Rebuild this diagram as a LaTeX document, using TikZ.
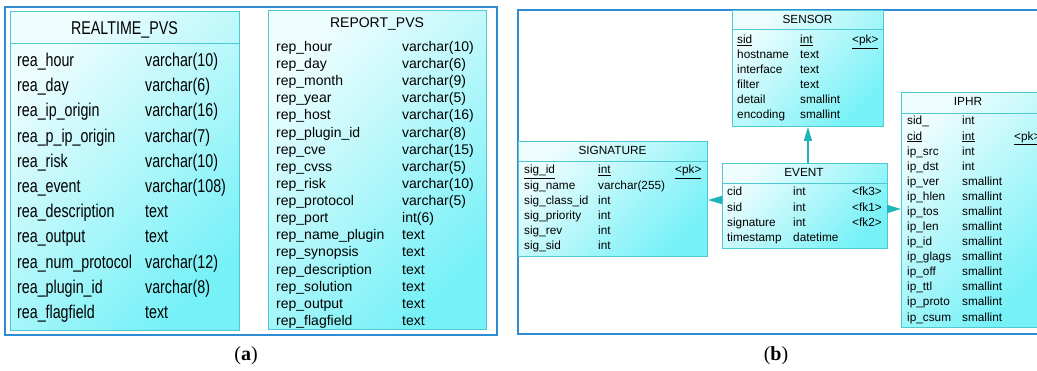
\documentclass[tikz,border=0pt]{standalone}
\usepackage{fontspec}
\setmainfont{Liberation Serif}
\newfontfamily\arialf{Liberation Sans}
\newfontfamily\arialn[FakeStretch=0.77]{Liberation Sans}
\usetikzlibrary{arrows.meta}
\definecolor{panelblue}{RGB}{45,140,212}
\definecolor{tblborder}{RGB}{80,200,210}
\definecolor{shlight}{RGB}{238,253,254}
\definecolor{shdark}{RGB}{118,241,247}
\definecolor{conncol}{RGB}{32,180,185}
\begin{document}
\begin{tikzpicture}[x=1pt,y=-1pt,
  panel/.style={draw=panelblue, line width=1.8pt},
  tbl/.style={draw=tblborder, line width=0.9pt, top color=shlight, bottom color=shdark, shading angle=45, inner sep=0pt, anchor=north west},
  sep/.style={draw=tblborder, line width=0.9pt},
  cellA/.style={font=\arialn\fontsize{18.5}{20}\selectfont, anchor=base west, inner sep=0pt},
  cellR/.style={font=\arialf\fontsize{14}{16}\selectfont, anchor=base west, inner sep=0pt},
  cellB/.style={font=\arialf\fontsize{11.8}{13}\selectfont, anchor=base west, inner sep=0pt},
  titleA/.style={font=\arialn\fontsize{18.5}{20}\selectfont, inner sep=0pt, anchor=base},
  titleR/.style={font=\arialf\fontsize{14}{16}\selectfont, inner sep=0pt, anchor=base},
  titleB/.style={font=\arialf\fontsize{11.8}{13}\selectfont, inner sep=0pt, anchor=base},
  conn/.style={draw=conncol, line width=1.6pt, -{Triangle[length=14pt,width=8pt]}},
  capt/.style={font=\fontsize{20}{22}\selectfont, inner sep=0pt}
]
\useasboundingbox (0,0) rectangle (1037,371);
\clip (0,0) rectangle (1037,371);

% ---------- panel (a)
\node[panel, minimum width=492pt, minimum height=328pt, inner sep=0pt, anchor=north west] (pa) at (4,6) {};
\node[tbl, minimum width=229pt, minimum height=319pt] (rt) at (10,11) {};
\draw[sep] (rt.west |- 0,43) -- (rt.east |- 0,43);
\node[titleA] (rt-title) at (124.5,34.5) {REALTIME\_PVS};
\foreach \n/\t [count=\i from 0] in {rea\_hour/varchar(10), rea\_day/varchar(6), rea\_ip\_origin/varchar(16), rea\_p\_ip\_origin/varchar(7), rea\_risk/varchar(10), rea\_event/varchar(108), rea\_description/text, rea\_output/text, rea\_num\_protocol/varchar(12), rea\_plugin\_id/varchar(8), rea\_flagfield/text} {
  \node[cellA] (rt-n\i) at (17,66.5+25.2*\i) {\n};
  \node[cellA] (rt-t\i) at (145,66.5+25.2*\i) {\t};
}

\node[tbl, minimum width=218pt, minimum height=319pt] (rp) at (268,10) {};
\node[titleR] (rp-title) at (377,28) {REPORT\_PVS};
\foreach \n/\t [count=\i from 0] in {rep\_hour/varchar(10), rep\_day/varchar(6), rep\_month/varchar(9), rep\_year/varchar(5), rep\_host/varchar(16), rep\_plugin\_id/varchar(8), rep\_cve/varchar(15), rep\_cvss/varchar(5), rep\_risk/varchar(10), rep\_protocol/varchar(5), rep\_port/int(6), rep\_name\_plugin/text, rep\_synopsis/text, rep\_description/text, rep\_solution/text, rep\_output/text, rep\_flagfield/text} {
  \node[cellR] (rp-n\i) at (276,51.5+17.12*\i) {\n};
  \node[cellR] (rp-t\i) at (402,51.5+17.12*\i) {\t};
}

% ---------- panel (b)
\node[panel, line width=1.5pt, minimum width=530pt, minimum height=324pt, inner sep=0pt, anchor=north west] (pb) at (517,9.5) {};

% SENSOR
\node[tbl, minimum width=151pt, minimum height=116pt] (sensor) at (732,10) {};
\draw[sep] (sensor.west |- 0,29) -- (sensor.east |- 0,29);
\node[titleB] (sensor-title) at (807.5,23.5) {SENSOR};
\foreach \n/\t/\k [count=\i from 0] in {\underline{sid}/\underline{int}/\underline{<pk>}, hostname/text/{}, interface/text/{}, filter/text/{}, detail/smallint/{}, encoding/smallint/{}} {
  \node[cellB] (sensor-n\i) at (737,44+15*\i) {\n};
  \node[cellB] (sensor-t\i) at (800,44+15*\i) {\t};
  \node[cellB] (sensor-k\i) at (852,44+15*\i) {\k};
}

% EVENT
\node[tbl, minimum width=165pt, minimum height=85pt] (event) at (722,163) {};
\draw[sep] (event.west |- 0,183) -- (event.east |- 0,183);
\node[titleB] (event-title) at (804,177) {EVENT};
\foreach \n/\t/\k [count=\i from 0] in {cid/int/<fk3>, sid/int/<fk1>, signature/int/<fk2>, timestamp/datetime/{}} {
  \node[cellB] (event-n\i) at (727,196+15.3*\i) {\n};
  \node[cellB] (event-t\i) at (793,196+15.3*\i) {\t};
  \node[cellB] (event-k\i) at (852,196+15.3*\i) {\k};
}

% SIGNATURE
\node[tbl, minimum width=189pt, minimum height=115pt] (signature) at (518,141) {};
\draw[sep] (signature.west |- 0,161) -- (signature.east |- 0,161);
\node[titleB] (signature-title) at (612.5,155) {SIGNATURE};
\foreach \n/\t/\k [count=\i from 0] in {\underline{sig\_id}/\underline{int}/\underline{<pk>}, sig\_name/varchar(255)/{}, sig\_class\_id/int/{}, sig\_priority/int/{}, sig\_rev/int/{}, sig\_sid/int/{}} {
  \node[cellB] (signature-n\i) at (524,174+15.2*\i) {\n};
  \node[cellB] (signature-t\i) at (598,174+15.2*\i) {\t};
  \node[cellB] (signature-k\i) at (675,174+15.2*\i) {\k};
}

% IPHR
\node[tbl, minimum width=141pt, minimum height=235pt] (iphr) at (901,92) {};
\draw[sep] (iphr.west |- 0,113) -- (iphr.east |- 0,113);
\node[titleB] (iphr-title) at (968,106) {IPHR};
\foreach \n/\t/\k [count=\i from 0] in {sid\_/int/{}, \underline{cid}/\underline{int}/\underline{<pk>}, ip\_src/int/{}, ip\_dst/int/{}, ip\_ver/smallint/{}, ip\_hlen/smallint/{}, ip\_tos/smallint/{}, ip\_len/smallint/{}, ip\_id/smallint/{}, ip\_glags/smallint/{}, ip\_off/smallint/{}, ip\_ttl/smallint/{}, ip\_proto/smallint/{}, ip\_csum/smallint/{}} {
  \node[cellB] (iphr-n\i) at (907,125+15.08*\i) {\n};
  \node[cellB] (iphr-t\i) at (962,125+15.08*\i) {\t};
  \node[cellB] (iphr-k\i) at (1014,125+15.08*\i) {\k};
}

% connectors
\draw[conn] (sensor.south |- event.north) -- (sensor.south);
\draw[conn] (event.west |- 0,200) -- (signature.east |- 0,200);
\draw[conn] (event.east |- 0,209) -- (iphr.west |- 0,209);

% captions
\node[capt] (capa) at (246,356) {(\textbf{a})};
\node[capt] (capb) at (776,356) {(\textbf{b})};
\end{tikzpicture}
\end{document}
